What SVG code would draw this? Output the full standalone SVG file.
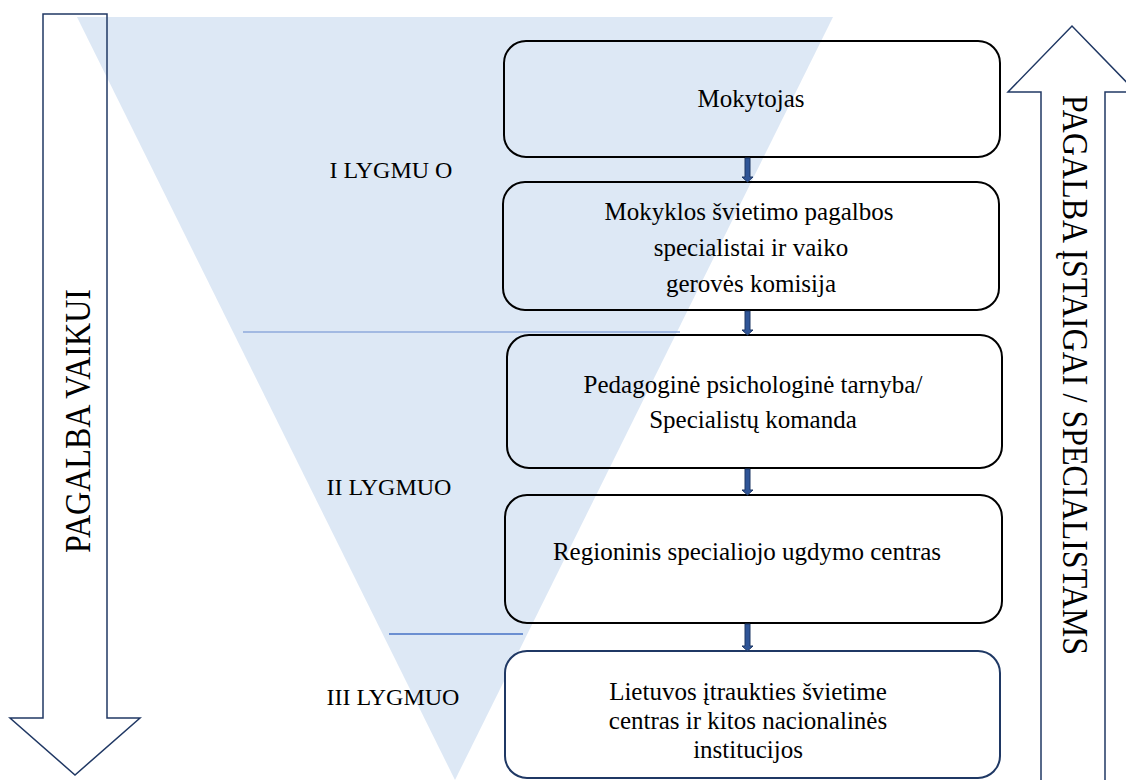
<svg xmlns="http://www.w3.org/2000/svg" width="1126" height="780" viewBox="0 0 1126 780">
  <style>
    .box { fill: none; stroke: #000; stroke-width: 2; }
    .box-last { fill: #fff; stroke: #1f3864; stroke-width: 2; }
    .side-arrow { fill: none; stroke: #203864; stroke-width: 1.5; stroke-linejoin: miter; }
    .sep-a { stroke: #8eaadb; stroke-width: 1.5; }
    .sep-b { stroke: #4472c4; stroke-width: 1.5; }
    .link { fill: #2f5597; stroke: #1f3864; stroke-width: 1; }
  </style>

  <rect width="1126" height="780" fill="#fff"/>

  <!-- funnel of support levels -->
  <polygon id="funnel" points="77,17 833,17 455,780" fill="#dde8f5"/>

  <!-- level separators -->
  <line class="sep-a" x1="243" y1="332" x2="680" y2="332"/>
  <line class="sep-b" x1="389" y1="634" x2="523" y2="634"/>

  <!-- side arrows -->
  <g id="arrow-down">
    <polygon class="side-arrow" points="43,14 107,14 107,718 140,718 75,775 10,718 43,718"/>
    <text font-family="Liberation Serif" font-size="36" text-anchor="middle" fill="#000" transform="translate(90,421) rotate(-90)" textLength="264" lengthAdjust="spacingAndGlyphs">PAGALBA VAIKUI</text>
  </g>
  <g id="arrow-up">
    <polygon class="side-arrow" points="1041,782 1041,92 1008,92 1072,26 1136,92 1105,92 1105,782"/>
    <text font-family="Liberation Serif" font-size="36" text-anchor="middle" fill="#000" transform="translate(1063,375) rotate(90)" textLength="560" lengthAdjust="spacingAndGlyphs">PAGALBA ĮSTAIGAI / SPECIALISTAMS</text>
  </g>

  <!-- level labels -->
  <text font-family="Liberation Serif" font-size="24" text-anchor="middle" x="391" y="178">I LYGMU O</text>
  <text font-family="Liberation Serif" font-size="24" text-anchor="middle" x="389" y="495">II LYGMUO</text>
  <text font-family="Liberation Serif" font-size="24" text-anchor="middle" x="393" y="705">III LYGMUO</text>

  <!-- nodes -->
  <g id="node-mokytojas">
    <rect class="box" x="504" y="41" width="496" height="116" rx="22"/>
    <text font-family="Liberation Serif" font-size="25" text-anchor="middle" x="751" y="107">Mokytojas</text>
  </g>
  <g id="node-mokykla">
    <rect class="box" x="503" y="182" width="496" height="128" rx="22"/>
    <text font-family="Liberation Serif" font-size="25" text-anchor="middle" x="749" y="220">Mokyklos švietimo pagalbos</text>
    <text font-family="Liberation Serif" font-size="25" text-anchor="middle" x="751" y="256">specialistai ir vaiko</text>
    <text font-family="Liberation Serif" font-size="25" text-anchor="middle" x="751" y="292">gerovės komisija</text>
  </g>
  <g id="node-ppt">
    <rect class="box" x="507" y="335" width="495" height="133" rx="22"/>
    <text font-family="Liberation Serif" font-size="25" text-anchor="middle" x="753" y="393">Pedagoginė psichologinė  tarnyba/</text>
    <text font-family="Liberation Serif" font-size="25" text-anchor="middle" x="753" y="428">Specialistų komanda</text>
  </g>
  <g id="node-regionas">
    <rect class="box" x="505" y="495" width="497" height="128" rx="22"/>
    <text font-family="Liberation Serif" font-size="25" text-anchor="middle" x="747" y="560">Regioninis specialiojo ugdymo centras</text>
  </g>
  <g id="node-nacionalines">
    <rect class="box-last" x="505" y="651" width="495" height="127" rx="22"/>
    <text font-family="Liberation Serif" font-size="25" text-anchor="middle" x="748" y="700">Lietuvos įtraukties švietime</text>
    <text font-family="Liberation Serif" font-size="25" text-anchor="middle" x="748" y="729">centras ir kitos nacionalinės</text>
    <text font-family="Liberation Serif" font-size="25" text-anchor="middle" x="748" y="758">institucijos</text>
  </g>

  <!-- connectors -->
  <g id="connectors">
    <polygon class="link" points="745,158 750,158 750,177 753,177 747.5,182 742,177 745,177"/>
    <polygon class="link" points="745,311 750,311 750,330 753,330 747.5,335 742,330 745,330"/>
    <polygon class="link" points="745,469 750,469 750,490 753,490 747.5,495 742,490 745,490"/>
    <polygon class="link" points="745,624 750,624 750,646 753,646 747.5,651 742,646 745,646"/>
  </g>
</svg>
